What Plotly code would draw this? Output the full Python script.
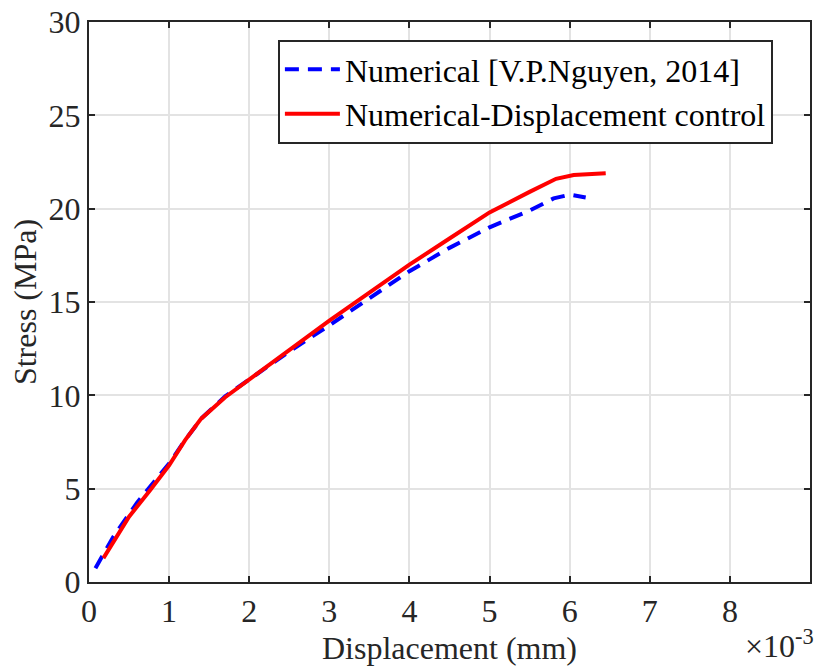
import plotly.graph_objects as go

# Displacement values shown in units of 1e-3 mm
blue_x = [0.08, 0.3, 0.6, 0.85, 1.0, 1.2, 1.4, 1.7, 2.0, 2.5, 3.0, 3.5, 4.0, 4.5, 5.0, 5.5, 5.8, 6.0, 6.2]
blue_y = [0.74, 2.4, 4.25, 5.6, 6.35, 7.6, 8.75, 9.95, 10.85, 12.35, 13.75, 15.2, 16.65, 17.9, 19.0, 19.9, 20.55, 20.75, 20.6]
red_x = [0.18, 0.5, 0.76, 1.0, 1.2, 1.4, 1.7, 2.0, 2.5, 3.0, 3.5, 4.0, 4.5, 5.0, 5.5, 5.83, 6.05, 6.45]
red_y = [1.28, 3.5, 4.9, 6.25, 7.6, 8.75, 9.9, 10.85, 12.45, 14.0, 15.5, 17.0, 18.4, 19.8, 20.9, 21.6, 21.8, 21.9]
x_ticks = [0, 1, 2, 3, 4, 5, 6, 7, 8]
y_ticks = [0, 5, 10, 15, 20, 25, 30]

FONT = "Liberation Serif"
FS = 32
fig = go.Figure()
fig.add_trace(go.Scatter(x=blue_x, y=blue_y, mode="lines", name="Numerical [V.P.Nguyen, 2014]",
                         line=dict(color="#0000ff", width=4, dash="14px,9px")))
fig.add_trace(go.Scatter(x=red_x, y=red_y, mode="lines", name="Numerical-Displacement control",
                         line=dict(color="#ff0000", width=4)))

axis_common = dict(showline=True, linecolor="#262626", linewidth=2, mirror="ticks",
                   ticks="inside", ticklen=6, tickwidth=2, tickcolor="#262626",
                   showgrid=True, gridcolor="#e3e3e3", gridwidth=1.5, zeroline=False,
                   tickfont=dict(family=FONT, size=FS, color="#262626"))
fig.update_xaxes(range=[0, 9], tickvals=x_ticks, ticktext=[str(v) for v in x_ticks],
                 title=dict(text="Displacement (mm)", font=dict(family=FONT, size=FS, color="#262626"), standoff=8),
                 **axis_common)
fig.update_yaxes(range=[0, 30], tickvals=y_ticks,
                 title=dict(text="Stress (MPa)", font=dict(family=FONT, size=FS, color="#262626"), standoff=2),
                 **axis_common)
fig.add_annotation(x=1.008, y=-0.15, xref="paper", yref="paper", xanchor="right", yanchor="bottom",
                   text="×10<sup>-3</sup>", showarrow=False,
                   font=dict(family=FONT, size=FS, color="#262626"))
fig.update_layout(width=816, height=671, margin=dict(l=89, r=4, t=18, b=89),
                  plot_bgcolor="white", paper_bgcolor="white",
                  legend=dict(x=0.262, y=0.968, xanchor="left", yanchor="top",
                              bgcolor="white", bordercolor="#262626", borderwidth=2,
                              font=dict(family=FONT, size=FS, color="#000000"),
                              tracegroupgap=0, itemwidth=55),
                  showlegend=True)
fig.write_html("out.html")
